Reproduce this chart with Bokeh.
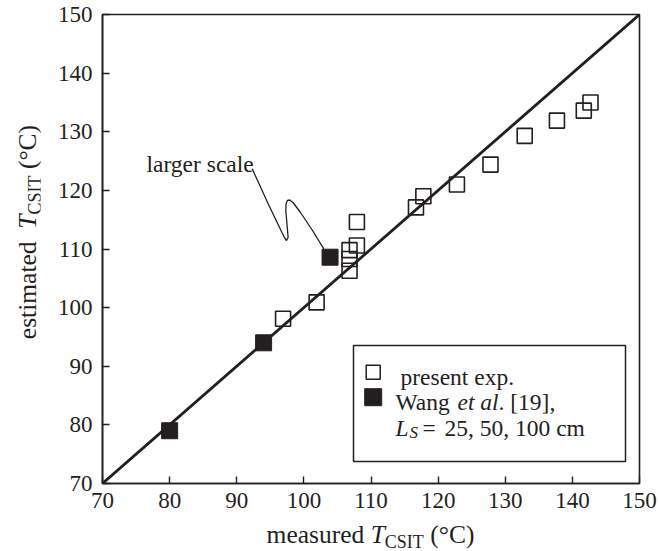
import math
from bokeh.plotting import figure
from bokeh.models import Label, BoxAnnotation, FixedTicker, Range1d, Div
from bokeh.layouts import column, row
from bokeh.embed import file_html
from bokeh.resources import INLINE

# ---------------- data ----------------
present_measured = [142.7, 141.7, 137.7, 132.9, 127.8, 122.8, 117.8, 116.7,
                    107.9, 107.9, 106.8, 106.8, 106.8, 101.9, 96.9]
present_estimated = [135.0, 133.6, 131.9, 129.3, 124.4, 121.0, 119.0, 117.1,
                     114.6, 110.6, 109.8, 108.3, 106.3, 100.9, 98.1]
wang_measured = [80.0, 94.0, 103.9]
wang_estimated = [79.0, 94.0, 108.6]
parity_x = [70, 150]
parity_y = [70, 150]
tick_values = [70, 80, 90, 100, 110, 120, 130, 140, 150]

# ---------------- layout (canvas pixels) ----------------
W, H = 659, 551
YDIV_W = 40                     # strip for the vertical title
FRAME_L, FRAME_R, FRAME_T, FRAME_B = 102, 639, 14, 483
P_W = W - YDIV_W                # figure width
P_H = 518                       # figure height
XDIV_H = H - P_H
ML = FRAME_L - YDIV_W
MR = P_W - (FRAME_R - YDIV_W)
MT = FRAME_T
MB = P_H - FRAME_B
FW, FH = FRAME_R - FRAME_L, FRAME_B - FRAME_T
X0, X1, Y0, Y1 = 70, 150, 70, 150
INK = "#231f20"
FONT = "Liberation Serif"
FS_TICK = 23
FS_TXT = 23.5
FS_SUB = 17


def dx(px):
    return X0 + (px - FRAME_L) * (X1 - X0) / FW


def dy(py):
    return Y1 - (py - FRAME_T) * (Y1 - Y0) / FH


p = figure(width=P_W, height=P_H, x_range=Range1d(X0, X1), y_range=Range1d(Y0, Y1),
           output_backend="svg", toolbar_location=None,
           min_border_left=ML, min_border_right=MR,
           min_border_top=MT, min_border_bottom=MB)
p.grid.visible = False
p.background_fill_color = "white"
p.border_fill_color = "white"
p.outline_line_color = INK
p.outline_line_width = 1.6

for ax in (p.xaxis[0], p.yaxis[0]):
    ax.ticker = FixedTicker(ticks=tick_values)
    ax.axis_line_color = INK
    ax.axis_line_width = 1.6
    ax.major_tick_line_color = INK
    ax.major_tick_line_width = 1.4
    ax.major_tick_in = 7
    ax.major_tick_out = 0
    ax.minor_tick_line_color = None
    ax.major_label_text_font = FONT
    ax.major_label_text_font_size = f"{FS_TICK}px"
    ax.major_label_text_color = INK
p.xaxis[0].major_label_standoff = 9
p.yaxis[0].major_label_standoff = 10

# parity line and data
p.line(parity_x, parity_y, line_width=2.8, color=INK)
p.scatter(present_measured, present_estimated, marker="square", size=15,
          fill_color=None, line_color=INK, line_width=1.6)
p.scatter(wang_measured, wang_estimated, marker="square", size=16,
          fill_color=INK, line_color=INK, line_width=1)


def label(px, py, txt, size, italic=False):
    p.add_layout(Label(x=dx(px), y=dy(py), text=txt,
                       text_font=FONT, text_font_size=f"{size}px",
                       text_font_style="italic" if italic else "normal",
                       text_color=INK, text_align="left",
                       text_baseline="alphabetic"))


# annotation
label(146, 163, "larger scale", FS_TXT)
squiggle_px = [251.7, 268, 280, 284.2, 286.0, 287.6, 286.6, 285.3, 285.6, 287.0,
               289.2, 292.5, 300, 312, 323.3]
squiggle_py = [168.3, 204, 229, 237.5, 240.0, 237.0, 225, 210, 203.0, 199.8,
               199.5, 202.0, 212, 230, 248.3]
p.line([dx(v) for v in squiggle_px], [dy(v) for v in squiggle_py],
       line_width=1.3, color=INK)

# legend
box = BoxAnnotation(left=dx(353), right=dx(625), top=dy(345), bottom=dy(461),
                    fill_color="white", fill_alpha=1.0, line_color=INK,
                    line_alpha=1.0, line_width=1.5, level="underlay")
p.add_layout(box)
p.scatter([dx(372.7)], [dy(371.7)], marker="square", size=14, fill_color=None,
          line_color=INK, line_width=1.5)
p.scatter([dx(372.7)], [dy(396.7)], marker="square", size=17, fill_color=INK,
          line_color=INK, line_width=1)
label(400, 376, "present exp.", FS_TXT)
label(395, 401, "Wang", FS_TXT)
label(457, 401, "et al", FS_TXT, italic=True)
label(498, 401, ". [19],", FS_TXT)
label(395, 427, "L", FS_TXT, italic=True)
label(409, 432, "S", FS_SUB, italic=True)
label(422, 427, "=", FS_TXT)
label(444, 427, "25, 50, 100 cm", FS_TXT)

# ---------------- axis titles (rich text) ----------------
FS_TITLE = 25.5
FS_TSUB = 18
LH = 25
BASE_OFF = 21  # baseline distance from line top
common = (f"font-family:'{FONT}'; font-size:{FS_TITLE}px; line-height:{LH}px; "
          f"color:{INK}; white-space:nowrap; box-sizing:border-box;")
sub = (f'<span style="font-size:{FS_TSUB}px; position:relative; top:5px; '
       f'line-height:0">CSIT</span>')

x_center = (FRAME_L + FRAME_R) / 2.0
x_base = 543 - P_H                       # baseline inside the lower strip
x_html = (f'<div style="{common} width:{W}px; text-align:center; '
          f'padding-left:{2 * x_center - W:.1f}px; padding-top:{x_base - BASE_OFF}px;">'
          f'measured <i>T</i>{sub} (°C)</div>')
xdiv = Div(text=x_html, width=W, height=XDIV_H, margin=0)

y_center = 232
y_len = 2 * y_center
y_base = 36
y_html = (f'<div style="{common} width:{y_len}px; height:{YDIV_W}px; '
          f'text-align:center; padding-top:{y_base - BASE_OFF}px; '
          f'transform-origin:0 0; transform:translate(0px,{y_len}px) rotate(-90deg);">'
          f'estimated&nbsp; <i>T</i>{sub} (°C)</div>')
ydiv = Div(text=y_html, width=YDIV_W, height=P_H, margin=0)

layout = column(row(ydiv, p, spacing=0), xdiv, spacing=0)

open("out.html", "w").write(file_html(layout, INLINE))
